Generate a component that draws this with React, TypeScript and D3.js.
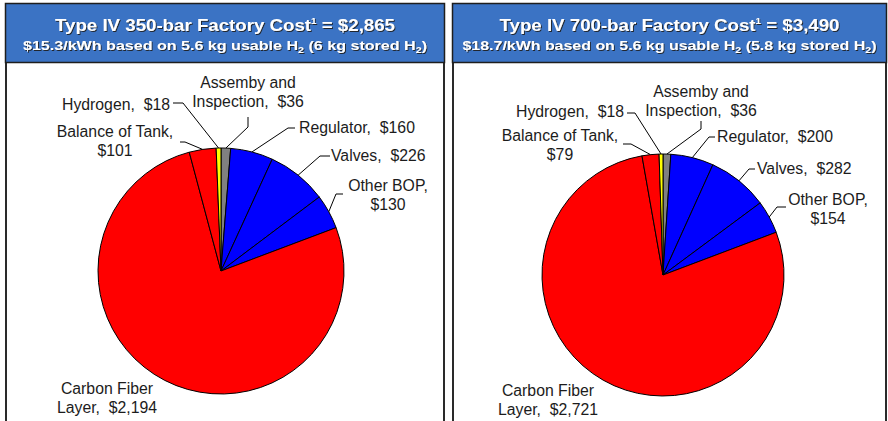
import * as d3 from 'd3';

// slice order, clockwise from 12 o'clock
const sliceNames = ['Assemby and Inspection', 'Regulator', 'Valves', 'Other BOP', 'Carbon Fiber Layer', 'Balance of Tank', 'Hydrogen'];
const labelTemplates = [
  'Assemby and\nInspection,  {v}',
  'Regulator,  {v}',
  'Valves,  {v}',
  'Other BOP,\n{v}',
  'Carbon Fiber\nLayer,  {v}',
  'Balance of Tank,\n{v}',
  'Hydrogen,  {v}',
];
const cost350 = [36, 160, 226, 130, 2194, 101, 18];
const cost700 = [36, 200, 282, 154, 2721, 79, 18];

const SLICE_COLORS = ['#808080', '#0000ff', '#0000ff', '#0000ff', '#ff0000', '#ff0000', '#ffff00'];
const HEADER_BLUE = '#3b73c4';
const INK = '#1c1c1c';

type Anchor = 'start' | 'middle' | 'end';
interface LabelPos {
  tx: number; ty: number; anchor: Anchor;
  elbow?: [number, number]; end?: [number, number];
}

// label placement relative to pie centre (hand placed in the original)
const layout350: LabelPos[] = [
  { tx: 27, ty: -183, anchor: 'middle', elbow: [27, -144], end: [27, -154] },
  { tx: 78, ty: -138, anchor: 'start', elbow: [67, -143], end: [74, -143] },
  { tx: 110, ty: -110, anchor: 'start', elbow: [99, -115], end: [109, -115] },
  { tx: 167, ty: -80, anchor: 'middle', elbow: [115, -77], end: [122, -77] },
  { tx: -114, ty: 123, anchor: 'middle' },
  { tx: -106, ty: -134, anchor: 'middle', elbow: [-36, -129], end: [-41, -129] },
  { tx: -51, ty: -161, anchor: 'end', elbow: [-38, -168], end: [-48, -168] },
];
const layout700: LabelPos[] = [
  { tx: 38, ty: -178, anchor: 'middle', elbow: [38, -146], end: [38, -154] },
  { tx: 54, ty: -133, anchor: 'start', elbow: [46, -138], end: [52, -138] },
  { tx: 94, ty: -101, anchor: 'start', elbow: [86, -106], end: [92, -106] },
  { tx: 165, ty: -70, anchor: 'middle', elbow: [114, -68], end: [123, -68] },
  { tx: -115, ty: 121, anchor: 'middle' },
  { tx: -103, ty: -134, anchor: 'middle', elbow: [-32, -131], end: [-40, -131] },
  { tx: -39, ty: -158, anchor: 'end', elbow: [-28, -162], end: [-36, -162] },
];

const fmt = d3.format('$,');

interface PanelProps {
  x: number; w: number;
  bar: string; kwh: string; stored: string;
  values: number[];
  layout: LabelPos[];
  cx: number; cy: number; r: number;
  subW: number;
}

function Panel({ x, w, bar, kwh, stored, values, layout, cx, cy, r, subW }: PanelProps) {
  const total = d3.sum(values);
  const pie = d3.pie<number>().sort(null).value((d) => d);
  const arcs = pie(values);
  const arc = d3.arc<d3.PieArcDatum<number>>().innerRadius(0).outerRadius(r);
  const mid = x + w / 2;

  return (
    <g>
      {/* body borders */}
      <line x1={x + 1} x2={x + 1} y1={63} y2={421} stroke="#2a2a2a" strokeWidth={2} />
      <line x1={x + w - 1} x2={x + w - 1} y1={63} y2={421} stroke="#2a2a2a" strokeWidth={2} />
      {/* header */}
      <rect x={x + 0.5} y={3.5} width={w - 1} height={59} fill={HEADER_BLUE} stroke="#1e1e1e" strokeWidth={1.5} />
      <g filter="url(#shadow)" fill="#fff" fontFamily="Liberation Sans, Arial, sans-serif" fontWeight="bold" textAnchor="middle">
        <text x={mid} y={31} fontSize={17} textLength={340} lengthAdjust="spacingAndGlyphs">
          {`Type IV ${bar}-bar Factory Cost`}
          <tspan fontSize={9} dy={-7}>1</tspan>
          <tspan dy={7}>{` = ${fmt(total)}`}</tspan>
        </text>
        <text x={mid} y={50} fontSize={13.5} textLength={subW} lengthAdjust="spacingAndGlyphs">
          {`${kwh}/kWh based on 5.6 kg usable H`}
          <tspan fontSize={9} dy={3}>2</tspan>
          <tspan dy={-3}>{` (${stored} kg stored H`}</tspan>
          <tspan fontSize={9} dy={3}>2</tspan>
          <tspan dy={-3}>)</tspan>
        </text>
      </g>

      <g transform={`translate(${cx},${cy})`}>
        {arcs.map((a, i) => (
          <path key={sliceNames[i]} d={arc(a) ?? ''} fill={SLICE_COLORS[i]} stroke="#000" strokeWidth={1} strokeLinejoin="round" />
        ))}
        {arcs.map((a, i) => {
          const L = layout[i];
          const m = (a.startAngle + a.endAngle) / 2;
          const px = Math.sin(m) * r;
          const py = -Math.cos(m) * r;
          const lines = labelTemplates[i].replace('{v}', fmt(a.data)).split('\n');
          return (
            <g key={`lab-${i}`}>
              {L.elbow && L.end && (
                <polyline
                  points={`${px},${py} ${L.elbow[0]},${L.elbow[1]} ${L.end[0]},${L.end[1]}`}
                  fill="none" stroke="#000" strokeWidth={1}
                />
              )}
              <text
                x={L.tx} y={L.ty} textAnchor={L.anchor} fontSize={15.8} fill={INK}
                fontFamily="Liberation Sans, Arial, sans-serif" style={{ whiteSpace: 'pre' }}
              >
                {lines.map((ln, k) => (
                  <tspan key={k} x={L.tx} dy={k === 0 ? 0 : 19}>{ln}</tspan>
                ))}
              </text>
            </g>
          );
        })}
      </g>
    </g>
  );
}

export default function App() {
  return (
    <div style={{ position: 'absolute', left: 0, top: 0 }}>
      <svg width={888} height={421} style={{ display: 'block', background: '#fff' }}>
        <defs>
          <filter id="shadow" x="-5%" y="-20%" width="110%" height="150%">
            <feDropShadow dx={1} dy={1} stdDeviation={0.6} floodColor="#1a1a1a" floodOpacity={0.9} />
          </filter>
        </defs>
        <Panel x={5} w={440} bar="350" kwh="$15.3" stored="6" values={cost350} layout={layout350} cx={221} cy={271} r={123} subW={404} />
        <Panel x={452} w={435} bar="700" kwh="$18.7" stored="5.8" values={cost700} layout={layout700} cx={663} cy={275} r={121} subW={414} />
      </svg>
    </div>
  );
}
